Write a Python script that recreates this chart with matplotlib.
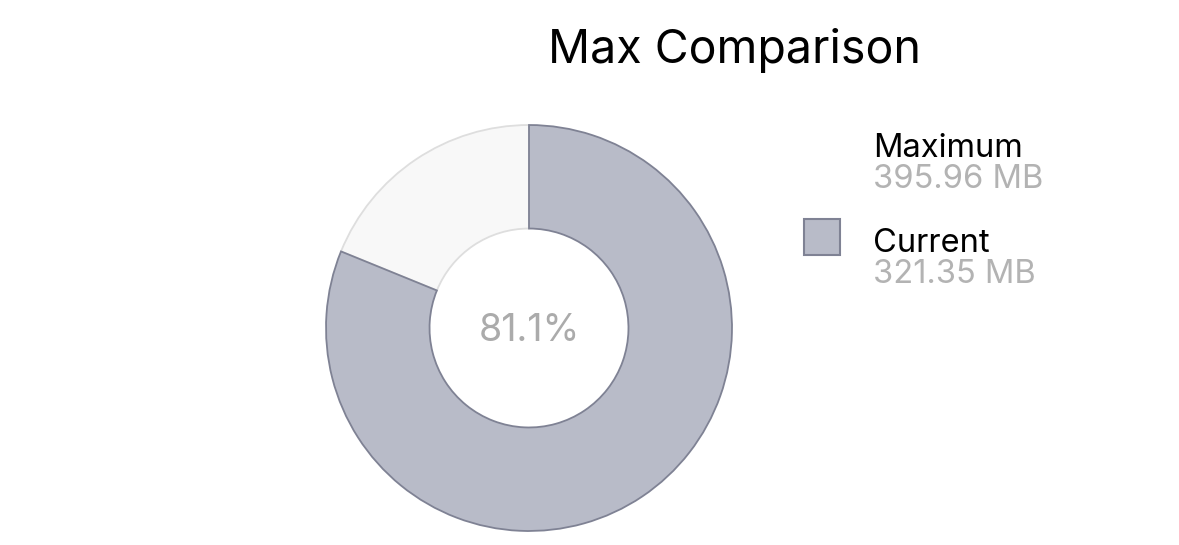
import math
import matplotlib.pyplot as plt
from matplotlib.patches import Rectangle

plt.rcParams['font.family'] = ['Inter', 'DejaVu Sans']

labels = ["Current", "Maximum"]
values_mb = [321.35, 395.96]
fills = ["#b8bbc8", "#f8f8f8"]
edges = ["#7f8294", "#dedede"]

current, maximum = values_mb
share = math.floor(current / maximum * 1000) / 10  # shown truncated: 81.1%

W, H = 1179, 545
fig = plt.figure(figsize=(W / 100, H / 100), dpi=100)
ax = fig.add_axes([325 / W, (H - 532) / H, 408 / W, 408 / H])

wedges, _ = ax.pie([current, maximum - current], colors=fills, startangle=90,
                   counterclock=False, radius=1,
                   wedgeprops=dict(width=0.51, linewidth=1.3))
for w, ec in zip(wedges, edges):
    w.set_edgecolor(ec)
wedges[0].set_zorder(3)
ax.set_xlim(-1.005, 1.005)
ax.set_ylim(-1.005, 1.005)
ax.set_aspect("equal")
ax.axis("off")
ax.text(0, -0.065, f"{share:.1f}%", ha="center", va="baseline",
        fontsize=27, color="#ababab")

fig.text(734 / W, 1 - 63 / H, "Max Comparison", ha="center",
         va="baseline", fontsize=33.5, color="black")

# legend, drawn by hand
grey = "#b3b3b3"
fig.text(873 / W, 1 - 157 / H, labels[1], ha="left", va="baseline",
         fontsize=23.5, color="black")
fig.text(873 / W, 1 - 188 / H, f"{maximum:.2f} MB", ha="left",
         va="baseline", fontsize=23.5, color=grey)
fig.text(873 / W, 1 - 252 / H, labels[0], ha="left", va="baseline",
         fontsize=23.5, color="black")
fig.text(873 / W, 1 - 283 / H, f"{current:.2f} MB", ha="left",
         va="baseline", fontsize=23.5, color=grey)
fig.patches.append(Rectangle((804 / W, 1 - 255 / H), 36 / W, 36 / H,
                             transform=fig.transFigure, facecolor=fills[0],
                             edgecolor=edges[0], linewidth=1.5))

fig.savefig("out.png", dpi=100)
